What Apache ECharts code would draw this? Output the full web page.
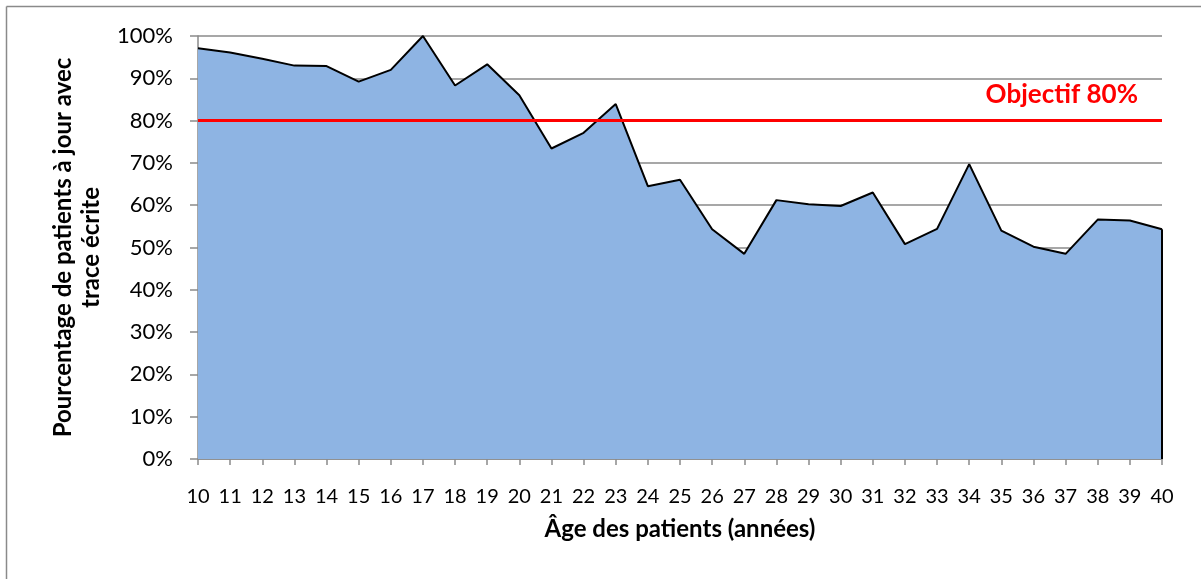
<!DOCTYPE html>
<html>
<head>
<meta charset="utf-8">
<script src="https://cdn.jsdelivr.net/npm/echarts@6/dist/echarts.min.js"></script>
<style>
html,body{margin:0;padding:0;background:#fff;}
#chart{width:1201px;height:579px;}
</style>
</head>
<body>
<div id="chart"></div>
<script>
var ages = ['10','11','12','13','14','15','16','17','18','19','20','21','22','23','24','25','26','27','28','29','30','31','32','33','34','35','36','37','38','39','40'];
var percentages = [97.1, 96.1, 94.6, 93.0, 92.9, 89.2, 92.0, 100, 88.3, 93.3, 86.0, 73.4, 77.1, 83.9, 64.5, 66.0, 54.3, 48.5, 61.2, 60.2, 59.8, 63.0, 50.8, 54.4, 69.7, 54.0, 50.2, 48.5, 56.6, 56.4, 54.3];
var objective = 80;
var objectiveLabel = 'Objectif 80%';
var yTitle = 'Pourcentage de patients à jour avec\ntrace écrite';
var xTitle = 'Âge des patients (années)';

var FONT = 'Lato';
var chart = echarts.init(document.getElementById('chart'), null, {renderer: 'canvas'});
var lastAge = ages[ages.length - 1];
var lastVal = percentages[percentages.length - 1];

chart.setOption({
  animation: false,
  backgroundColor: '#ffffff',
  textStyle: {fontFamily: FONT},
  graphic: [
    {type: 'line', shape: {x1: 6.5, y1: 6.5, x2: 1201, y2: 6.5}, style: {stroke: '#8a8a8a', lineWidth: 1.5}, silent: true},
    {type: 'line', shape: {x1: 6.5, y1: 6.5, x2: 6.5, y2: 579}, style: {stroke: '#8a8a8a', lineWidth: 1.5}, silent: true}
  ],
  grid: {left: 198, right: 39, top: 36, bottom: 120, containLabel: false},
  xAxis: {
    type: 'category',
    data: ages,
    boundaryGap: false,
    name: xTitle,
    nameLocation: 'middle',
    nameGap: 58,
    nameTextStyle: {fontFamily: FONT, fontSize: 24, fontWeight: 'bold', color: '#000'},
    axisLine: {lineStyle: {color: '#8a8a8a', width: 1.5}},
    axisTick: {show: true, length: 6, lineStyle: {color: '#8a8a8a', width: 1.5}},
    axisLabel: {fontFamily: FONT, fontSize: 20, color: '#000', margin: 28, interval: 0},
    splitLine: {show: false}
  },
  yAxis: {
    type: 'value',
    min: 0, max: 100, interval: 10,
    name: yTitle,
    nameLocation: 'middle',
    nameGap: 93,
    nameTextStyle: {fontFamily: FONT, fontSize: 24, fontWeight: 'bold', color: '#000', lineHeight: 28, align: 'center'},
    axisLine: {show: true, lineStyle: {color: '#8a8a8a', width: 1.5}},
    axisTick: {show: true, length: 8, lineStyle: {color: '#8a8a8a', width: 1.5}},
    axisLabel: {fontFamily: FONT, fontSize: 22, color: '#000', margin: 25, formatter: '{value}%'},
    splitLine: {show: true, lineStyle: {color: '#8a8a8a', width: 1.5}}
  },
  series: [{
    type: 'line',
    data: percentages,
    symbol: 'none',
    lineStyle: {color: '#000', width: 2},
    areaStyle: {color: '#8EB4E3', opacity: 1},
    z: 2,
    markLine: {
      silent: true,
      symbol: 'none',
      animation: false,
      data: [
        {
          yAxis: objective,
          lineStyle: {color: '#FF0000', width: 3, type: 'solid'},
          label: {
            show: true,
            position: 'insideEndTop',
            formatter: objectiveLabel,
            color: '#FF0000',
            fontFamily: FONT,
            fontWeight: 'bold',
            fontSize: 26,
            distance: [24, 13]
          }
        },
        [
          {coord: [lastAge, 0], lineStyle: {color: '#000', width: 2, type: 'solid'}, label: {show: false}},
          {coord: [lastAge, lastVal]}
        ]
      ]
    }
  }]
});
</script>
</body>
</html>
